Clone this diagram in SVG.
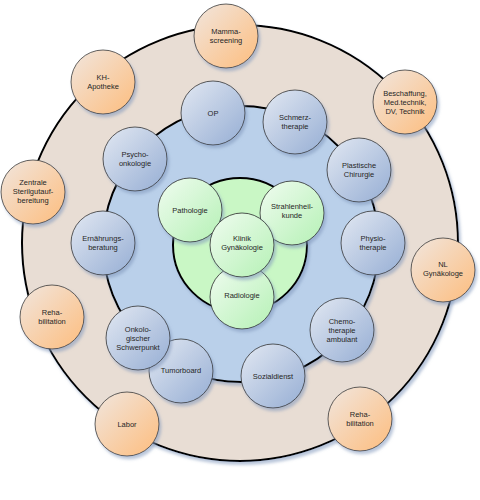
<svg xmlns="http://www.w3.org/2000/svg" width="480" height="500" viewBox="0 0 480 500">
<defs>
<linearGradient id="gO" x1="0" y1="0" x2="1" y2="1"><stop offset="0" stop-color="#f1e6de"/><stop offset="1" stop-color="#fdbd7e"/></linearGradient>
<linearGradient id="gB" x1="0" y1="0" x2="1" y2="1"><stop offset="0" stop-color="#e2e8f2"/><stop offset="1" stop-color="#96aed4"/></linearGradient>
<linearGradient id="gG" x1="0" y1="0" x2="1" y2="1"><stop offset="0" stop-color="#f0fcf0"/><stop offset="1" stop-color="#b5f1b5"/></linearGradient>
<filter id="sh" x="-20%" y="-20%" width="150%" height="150%"><feDropShadow dx="2" dy="3" stdDeviation="1.5" flood-color="#7f96bb" flood-opacity="0.55"/></filter>
</defs>
<style>
.big{stroke:#000;stroke-width:2;filter:url(#sh)}
.o{fill:url(#gO);stroke:#3a3a3a;stroke-width:0.8;filter:url(#sh)}
.b{fill:url(#gB);stroke:#333;stroke-width:0.8;filter:url(#sh)}
.g{fill:url(#gG);stroke:#2a2a2a;stroke-width:0.8;filter:url(#sh)}
text{font-family:"Liberation Sans",Arial,sans-serif;font-size:7.5px;fill:#262626;text-anchor:middle}
</style>
<g id="rings">
<circle class="big" cx="240" cy="243" r="218" fill="#e8ddd4"/>
<circle class="big" cx="241" cy="244" r="138" fill="#bad0ea"/>
<circle class="big" cx="240" cy="245" r="67" fill="#c9f7c5"/>
</g>
<g id="connectors"></g>
<g id="outer">
<g id="mamma"><circle class="o" cx="226" cy="36" r="32"/><text x="226" y="34">Mamma-</text><text x="226" y="43">screening</text></g>
<g id="apotheke"><circle class="o" cx="103" cy="82" r="32"/><text x="103" y="80">KH-</text><text x="103" y="89">Apotheke</text></g>
<g id="steril"><circle class="o" cx="33" cy="192" r="32"/><text x="33" y="185">Zentrale</text><text x="33" y="194">Sterilgutauf-</text><text x="33" y="203">bereitung</text></g>
<g id="reha1"><circle class="o" cx="52" cy="317" r="32"/><text x="52" y="315">Reha-</text><text x="52" y="324">bilitation</text></g>
<g id="labor"><circle class="o" cx="127" cy="424" r="32"/><text x="127" y="427">Labor</text></g>
<g id="reha2"><circle class="o" cx="360" cy="419" r="32"/><text x="360" y="417">Reha-</text><text x="360" y="426">bilitation</text></g>
<g id="nl"><circle class="o" cx="443" cy="270" r="32"/><text x="443" y="267">NL</text><text x="443" y="276">Gynäkologe</text></g>
<g id="beschaffung"><circle class="o" cx="405" cy="102" r="32"/><text x="405" y="96">Beschaffung,</text><text x="405" y="105">Med.technik,</text><text x="405" y="114">DV, Technik</text></g>
</g>
<g id="middle">
<g id="op"><circle class="b" cx="213" cy="113" r="32"/><text x="213" y="116">OP</text></g>
<g id="schmerz"><circle class="b" cx="295" cy="122" r="32"/><text x="295" y="120">Schmerz-</text><text x="295" y="129">therapie</text></g>
<g id="plastisch"><circle class="b" cx="359" cy="170" r="32"/><text x="359" y="168">Plastische</text><text x="359" y="177">Chirurgie</text></g>
<g id="physio"><circle class="b" cx="373" cy="243" r="32"/><text x="373" y="241">Physio-</text><text x="373" y="250">therapie</text></g>
<g id="chemo"><circle class="b" cx="342" cy="330" r="32"/><text x="342" y="324">Chemo-</text><text x="342" y="333">therapie</text><text x="342" y="342">ambulant</text></g>
<g id="sozial"><circle class="b" cx="273" cy="376" r="32"/><text x="273" y="379">Sozialdienst</text></g>
<g id="tumorboard"><circle class="b" cx="181" cy="371" r="32"/><text x="181" y="373">Tumorboard</text></g>
<g id="onko"><circle class="b" cx="138" cy="338" r="32"/><text x="138" y="332">Onkolo-</text><text x="138" y="341">gischer</text><text x="138" y="350">Schwerpunkt</text></g>
<g id="ernaehrung"><circle class="b" cx="103" cy="243" r="32"/><text x="103" y="241">Ernährungs-</text><text x="103" y="250">beratung</text></g>
<g id="psycho"><circle class="b" cx="135" cy="159" r="32"/><text x="135" y="157">Psycho-</text><text x="135" y="166">onkologie</text></g>
</g>
<g id="inner">
<g id="patho"><circle class="g" cx="190" cy="210" r="32"/><text x="190" y="213">Pathologie</text></g>
<g id="strahlen"><circle class="g" cx="292" cy="213" r="32"/><text x="292" y="209">Strahlenheil-</text><text x="292" y="218">kunde</text></g>
<g id="radio"><circle class="g" cx="242" cy="297" r="32"/><text x="242" y="298">Radiologie</text></g>
<g id="klinik"><circle class="g" cx="242" cy="245" r="32"/><text x="242" y="241">Klinik</text><text x="242" y="250">Gynäkologie</text></g>
</g>
</svg>
